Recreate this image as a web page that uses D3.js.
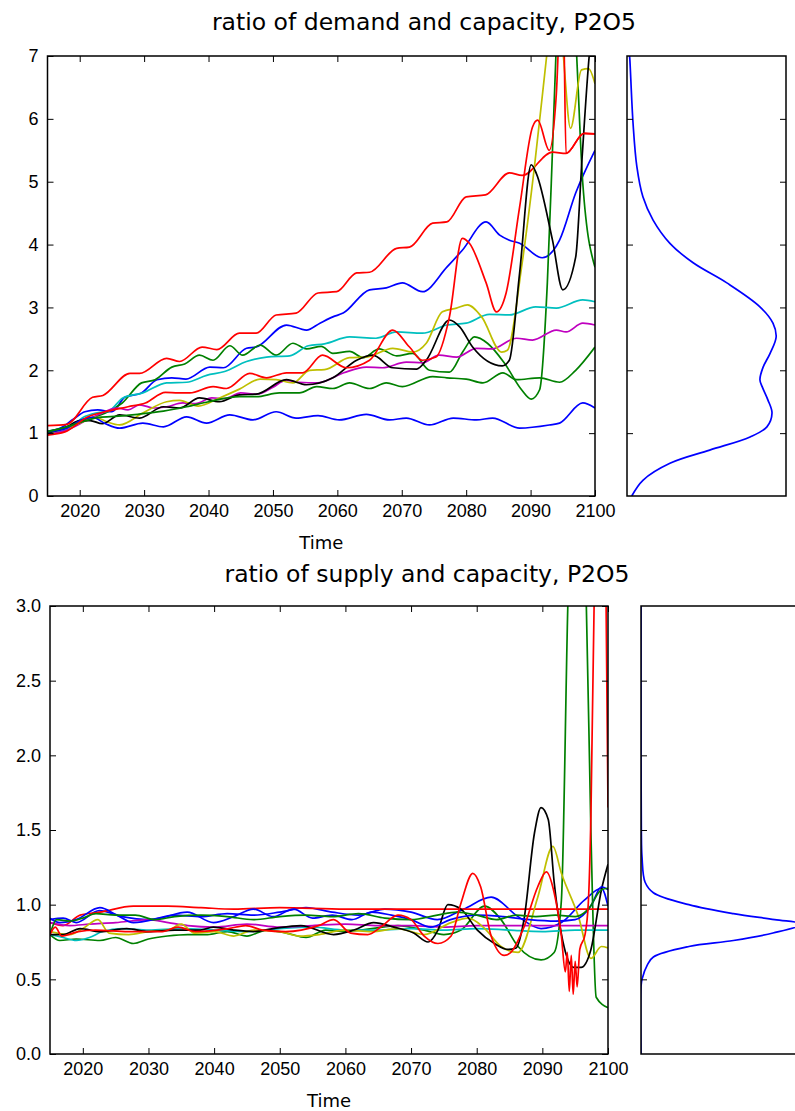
<!DOCTYPE html>
<html>
<head>
<meta charset="utf-8">
<script src="https://cdn.jsdelivr.net/npm/d3@7"></script>
<style>
    body { margin: 0; background: #fff; }
    svg { font-family: "DejaVu Sans", sans-serif; }
    .frame { fill: none; stroke: #000; stroke-width: 1.5; }
    .tick line { stroke: #000; stroke-width: 1; }
    .tick text { fill: #000; font-size: 18px; }
    .series { fill: none; stroke-width: 1.7; }
</style>
</head>
<body>
<div id="chart"></div>
<script>
// ---- tick labels / years ----
var yearTicks = [2020, 2030, 2040, 2050, 2060, 2070, 2080, 2090, 2100];
var demandTicks = [0, 1, 2, 3, 4, 5, 6, 7];
var supplyTicks = [0, 0.5, 1.0, 1.5, 2.0, 2.5, 3.0];
var colors = ["#0000ff", "#008000", "#ff0000", "#00bfbf", "#bf00bf", "#bfbf00", "#000000", "#0000ff", "#008000", "#ff0000"];

// ---- ratio of demand and capacity: [year, value] ----
var dBlue1 = [[2015,1.03],[2017,1.08],[2019,1.22],[2020.8,1.34],[2022.8,1.37],[2025,1.34],[2027,1.57],[2029.6,1.64],[2032,1.85],[2034.3,1.88],[2036.5,1.86],[2040.2,2.05],[2042.3,2.04],[2045.9,2.35],[2047.4,2.37],[2052.1,2.72],[2055.2,2.64],[2057.3,2.75],[2059.3,2.85],[2060.9,2.91],[2065,3.28],[2067.6,3.31],[2070.1,3.39],[2073.2,3.25],[2077,3.64],[2079.4,3.91],[2083.1,4.36],[2085.2,4.15],[2086.7,4.07],[2088.3,4.02],[2091.8,3.79],[2094.5,4.07],[2097,4.82],[2100,5.5]];
var dGreen1 = [[2015,1.03],[2018,1.1],[2020,1.2],[2022.4,1.26],[2024,1.32],[2026.6,1.48],[2029.6,1.8],[2031.7,1.85],[2034.3,2.05],[2036.3,2.1],[2038.6,2.24],[2040.7,2.16],[2043.3,2.39],[2045.3,2.24],[2048,2.4],[2050.5,2.24],[2053.1,2.43],[2055.2,2.34],[2057.5,2.38],[2059.3,2.27],[2061.9,2.3],[2064,2.2],[2066.5,2.34],[2069.2,2.23],[2071.7,2.27],[2074.3,2.0],[2077.4,1.97],[2079.5,2.3],[2081.3,2.53],[2083.3,2.43],[2085.9,2.12],[2088.6,1.69],[2090.1,1.54],[2091.4,1.69],[2092.6,3.39],[2093.4,5.5],[2094,7.2],[2095.5,9],[2097,7.3],[2098.1,4.98],[2100,3.64]];
var dRed1 = [[2015,1.12],[2018,1.14],[2022,1.57],[2023.6,1.6],[2027.8,1.95],[2029.3,1.95],[2033.5,2.19],[2035.5,2.14],[2039,2.37],[2041.3,2.33],[2044.8,2.59],[2047.4,2.59],[2050.5,2.88],[2053.6,2.91],[2057,3.23],[2059.9,3.25],[2063,3.55],[2065,3.56],[2069.2,3.94],[2071.2,3.96],[2074.8,4.34],[2077,4.36],[2080,4.76],[2083,4.79],[2086.7,5.14],[2088.7,5.1],[2093.4,5.47],[2095.5,5.45],[2098.3,5.77],[2100,5.76]];
var dCyan = [[2015,1.0],[2018,1.05],[2020.5,1.25],[2022.5,1.32],[2024.5,1.35],[2026.7,1.56],[2029.8,1.64],[2033.5,1.8],[2036.6,1.81],[2039.7,1.92],[2042.5,1.98],[2045.9,2.14],[2049,2.21],[2052.6,2.23],[2055.5,2.39],[2058,2.42],[2061.9,2.53],[2066,2.51],[2069.2,2.61],[2073.2,2.59],[2077,2.72],[2080,2.75],[2083.6,2.89],[2086.7,2.88],[2090.8,3.01],[2094,2.99],[2098.1,3.12],[2100,3.09]];
var dMagenta = [[2015,0.98],[2018,1.05],[2021,1.2],[2023,1.3],[2025.8,1.4],[2027.5,1.37],[2029.3,1.45],[2031.5,1.4],[2033.5,1.42],[2036,1.48],[2038,1.47],[2040.5,1.56],[2042.5,1.55],[2045,1.64],[2047.5,1.62],[2050,1.73],[2052,1.84],[2054,1.81],[2057,1.8],[2061,1.96],[2064.5,2.05],[2067,2.04],[2070.7,2.13],[2073.2,2.12],[2075.8,2.24],[2078.5,2.21],[2081.6,2.35],[2084,2.34],[2087.8,2.51],[2090.3,2.48],[2094,2.64],[2095.5,2.61],[2098.1,2.75],[2100,2.72]];
var dYellow = [[2015,1.0],[2018,1.08],[2021,1.2],[2022.5,1.25],[2024.2,1.18],[2026.2,1.13],[2029.8,1.32],[2033.5,1.5],[2035.5,1.52],[2038.4,1.43],[2041.7,1.56],[2044.8,1.7],[2048,1.86],[2050.5,1.85],[2053.1,1.8],[2055.7,2.0],[2058,2.01],[2061.9,2.2],[2064.5,2.21],[2068.6,2.35],[2071.7,2.29],[2073.8,2.43],[2076.3,2.93],[2078.5,2.99],[2080.2,3.04],[2082.4,2.85],[2085.5,2.29],[2086.4,2.32],[2088.6,3.64],[2090.6,5.24],[2092.6,7.1],[2093.8,8.2],[2095,7.1],[2096.2,5.85],[2097.9,6.78],[2099,6.8],[2100,6.56]];
var dBlack = [[2015,1.0],[2018,1.1],[2020,1.2],[2021.6,1.2],[2023.5,1.15],[2026.2,1.29],[2029.3,1.24],[2033,1.42],[2035.5,1.4],[2038.6,1.56],[2041.7,1.5],[2044.8,1.61],[2047.4,1.62],[2052.1,1.85],[2055.2,1.77],[2059.3,1.88],[2063,2.16],[2065.5,2.24],[2068.6,2.04],[2072.3,2.02],[2073.8,2.16],[2077.4,2.8],[2079,2.69],[2081,2.37],[2085.6,2.07],[2086.7,2.16],[2088.3,3.55],[2090.1,5.27],[2090.9,5.13],[2093.4,4.07],[2095,3.28],[2097,3.8],[2098,5.39],[2099.1,7.0],[2100,7.8]];
var dBlue2 = [[2015,1.02],[2018,1.08],[2020.5,1.22],[2022,1.25],[2024,1.15],[2026.2,1.08],[2029.8,1.16],[2033,1.1],[2036.6,1.26],[2039.7,1.16],[2043.3,1.29],[2046.9,1.21],[2050.5,1.34],[2053.6,1.24],[2057,1.28],[2060.3,1.21],[2064.5,1.3],[2068.1,1.21],[2070.7,1.24],[2074.3,1.13],[2078,1.24],[2081.6,1.21],[2084.1,1.24],[2088.3,1.08],[2092.9,1.13],[2094.5,1.16],[2098.1,1.48],[2100,1.4]];
var dGreen2 = [[2015,1.02],[2018,1.1],[2021,1.2],[2023,1.25],[2026,1.27],[2029,1.3],[2033,1.35],[2036.6,1.42],[2040,1.5],[2044.8,1.58],[2047.4,1.58],[2051,1.64],[2054.1,1.64],[2056.8,1.74],[2059.3,1.71],[2061.9,1.8],[2065,1.71],[2067.6,1.8],[2070.1,1.74],[2074.8,1.9],[2077,1.88],[2080,1.86],[2082.6,1.8],[2085.7,1.96],[2087.8,1.85],[2091.4,1.88],[2094.5,1.81],[2097,2.0],[2100,2.37]];
var dRed2 = [[2015,0.97],[2017.7,1.02],[2021.3,1.26],[2023.9,1.34],[2027.5,1.42],[2030.2,1.48],[2033.3,1.65],[2035.3,1.64],[2037.1,1.64],[2040.7,1.74],[2042.8,1.71],[2046.4,1.95],[2049,1.88],[2052.1,1.96],[2054.6,1.96],[2057.7,2.24],[2061.4,2.04],[2065,2.16],[2068.6,2.64],[2071.2,2.37],[2073.2,2.16],[2075.3,2.21],[2077.4,2.85],[2079.4,4.1],[2080.5,4.02],[2083.1,3.39],[2084.7,2.93],[2086.2,3.23],[2088.3,4.6],[2090.3,5.87],[2091.1,5.98],[2092.9,5.5],[2094,6.4],[2094.6,7.6],[2095.1,7.6],[2095.5,5.45],[2098.3,5.77],[2100,5.76]];

// ---- ratio of supply and capacity: [year, value] ----
var sBlue1 = [[2015,0.9],[2017,0.91],[2019,0.88],[2022.5,0.96],[2026,0.92],[2030,0.9],[2034,0.93],[2038,0.92],[2042,0.94],[2046,0.93],[2050,0.95],[2054,0.98],[2058,0.95],[2062,0.93],[2066,0.97],[2070,0.95],[2074,0.9],[2078,0.97],[2082.2,1.05],[2086.3,0.92],[2089.8,0.84],[2092.9,0.88],[2096.4,1.03],[2099,1.11],[2100,0.99]];
var sGreen1 = [[2015,0.8],[2016.5,0.76],[2019,0.77],[2022.6,0.76],[2025,0.78],[2027.7,0.74],[2030,0.77],[2032.9,0.79],[2036,0.8],[2039,0.8],[2042,0.82],[2045,0.79],[2048,0.83],[2051,0.81],[2054,0.78],[2057,0.83],[2060,0.82],[2064,0.84],[2068,0.86],[2072,0.83],[2075,0.8],[2077.6,0.83],[2081.2,0.99],[2083.7,0.9],[2086.3,0.72],[2089.8,0.63],[2091.8,0.68],[2092.9,1.03],[2093.9,3.04],[2095,4.5],[2096.2,3.5],[2096.7,3.0],[2097.4,1.48],[2098.2,0.38],[2100,0.31]];
var sRed1 = [[2015,0.88],[2017,0.86],[2019.6,0.93],[2022.6,0.95],[2027.7,0.99],[2032.9,0.99],[2038,0.98],[2043,0.97],[2050,0.98],[2060,0.97],[2070,0.97],[2080,0.97],[2090,0.97],[2100,0.97]];
var sCyan = [[2015,0.8],[2017,0.78],[2019,0.76],[2021,0.78],[2023,0.82],[2026,0.84],[2030,0.83],[2035,0.84],[2040,0.83],[2045,0.82],[2050,0.84],[2055,0.85],[2060,0.83],[2065,0.83],[2070,0.84],[2075,0.83],[2080,0.84],[2085,0.83],[2090,0.82],[2095,0.83],[2100,0.83]];
var sMagenta = [[2015,0.88],[2018,0.86],[2021,0.87],[2025,0.88],[2030,0.9],[2033,0.88],[2036,0.86],[2040,0.85],[2045,0.87],[2050,0.85],[2055,0.86],[2060,0.87],[2065,0.86],[2070,0.86],[2075,0.85],[2080,0.86],[2085,0.86],[2090,0.86],[2095,0.86],[2100,0.86]];
var sYellow = [[2015,0.82],[2018,0.8],[2020,0.84],[2022.3,0.9],[2024,0.81],[2027,0.8],[2030,0.82],[2033,0.83],[2035,0.87],[2037,0.81],[2040,0.82],[2043,0.79],[2046,0.83],[2050,0.82],[2053,0.79],[2056,0.8],[2060,0.83],[2064,0.82],[2068,0.84],[2072,0.8],[2076.1,0.88],[2078.7,0.91],[2081,0.85],[2083.7,0.72],[2086.3,0.68],[2089.3,1.05],[2091.6,1.39],[2092.9,1.21],[2095.5,0.92],[2097.4,0.64],[2099,0.72],[2100,0.71]];
var sBlack = [[2015,0.8],[2017,0.8],[2019.6,0.84],[2022.6,0.82],[2026.7,0.84],[2030,0.82],[2034,0.83],[2037.9,0.83],[2039.9,0.85],[2043,0.83],[2046,0.82],[2049,0.84],[2053.2,0.86],[2058.2,0.8],[2061.3,0.83],[2064.3,0.88],[2067.4,0.85],[2070.4,0.81],[2072.6,0.75],[2074.1,0.83],[2075.6,1.0],[2077.6,0.97],[2080.1,0.83],[2082.7,0.74],[2084.8,0.7],[2086,0.71],[2087.2,0.9],[2088.8,1.48],[2089.8,1.65],[2090.9,1.57],[2091.8,1.15],[2093.3,0.72],[2094.8,0.58],[2095.9,0.58],[2097.4,0.7],[2099,1.1],[2100,1.27]];
var sBlue2 = [[2015,0.91],[2016.5,0.88],[2019,0.9],[2022.6,0.98],[2025.2,0.93],[2027.7,0.88],[2031.8,0.91],[2035.9,0.95],[2039.9,0.88],[2043,0.92],[2046,0.97],[2049,0.92],[2052.1,0.97],[2055,0.91],[2058,0.93],[2061,0.9],[2064,0.95],[2067,0.93],[2070,0.9],[2073,0.85],[2076,0.9],[2080,0.93],[2084,0.92],[2088,0.9],[2092,0.89],[2095,0.9],[2097.5,1.0],[2099,1.12],[2100,1.1]];
var sGreen2 = [[2015,0.8],[2016,0.9],[2018,0.89],[2020,0.91],[2022,0.94],[2025,0.93],[2028,0.93],[2031,0.9],[2034,0.92],[2038,0.93],[2042,0.92],[2046,0.9],[2050,0.92],[2054,0.93],[2058,0.92],[2062,0.94],[2066,0.91],[2070,0.9],[2074,0.93],[2077,0.95],[2080,0.93],[2083,0.9],[2086,0.93],[2089,0.92],[2092,0.93],[2095,0.92],[2097,0.97],[2099,1.1],[2100,1.11]];
var sRed2 = [[2015,0.8],[2015.8,0.85],[2016.8,0.79],[2019.3,0.82],[2021.9,0.83],[2026.9,0.82],[2032.1,0.82],[2034.5,0.85],[2037.1,0.82],[2042.2,0.84],[2044.8,0.86],[2047.4,0.83],[2050.9,0.82],[2055.9,0.86],[2058.2,0.9],[2060.8,0.81],[2063.4,0.8],[2065.4,0.85],[2068,0.93],[2070,0.9],[2072,0.79],[2074.1,0.74],[2076.1,0.79],[2077.6,1.01],[2079.4,1.21],[2080.6,1.12],[2082.2,0.79],[2084.2,0.66],[2085.2,0.68],[2087.2,0.85],[2089.3,1.12],[2090.6,1.22],[2091.8,1.08],[2092.9,0.79],[2093.5,0.55],[2093.8,0.68],[2094.1,0.42],[2094.4,0.66],[2094.7,0.4],[2095,0.62],[2095.3,0.45],[2095.7,0.7],[2096.5,0.8],[2097,1.01],[2097.4,1.6],[2097.9,3.05],[2098.5,3.6],[2099.3,3.5],[2099.7,3.05],[2100,1.65]];

// ---- distributions on the right: value level and density ----
var demandDensLevel = [0, 0.25, 0.52, 0.73, 0.94, 1.1, 1.32, 1.53, 1.74, 1.85, 2.05, 2.27, 2.53, 2.75, 3.01, 3.39, 3.71, 4.02, 4.39, 4.76, 5.24, 5.93, 6.94, 7];
var demandDens = [0.015, 0.05, 0.135, 0.26, 0.387, 0.44, 0.456, 0.443, 0.425, 0.418, 0.428, 0.45, 0.469, 0.459, 0.418, 0.314, 0.208, 0.135, 0.082, 0.05, 0.031, 0.019, 0.009, 0.008];
var supplyDensLevel = [0, 0.45, 0.5, 0.6, 0.65, 0.72, 0.76, 0.81, 0.87, 0.9, 0.94, 1.0, 1.08, 1.15, 1.32, 1.5, 2.0, 3.0];
var supplyDens = [0, 0, 0.006, 0.04, 0.075, 0.29, 0.56, 0.8, 0.98, 0.81, 0.56, 0.29, 0.075, 0.025, 0.006, 0.002, 0, 0];

var svg = d3.select("#chart").append("svg")
        .attr("width", 795)
        .attr("height", 1111);

function drawPanel(p) {
    var x = d3.scaleLinear().domain([2015, 2100]).range([p.left, p.left + p.width]);
    var y = d3.scaleLinear().domain([p.yTicks[0], p.yTicks[p.yTicks.length - 1]]).range([p.top + p.height, p.top]);
    var xd = d3.scaleLinear().domain([0, p.densMax]).range([p.dLeft, p.dLeft + p.dWidth]);

    var clipId = "clip-" + p.id;
    svg.append("clipPath").attr("id", clipId)
            .append("rect")
            .attr("x", p.left).attr("y", p.top)
            .attr("width", p.width).attr("height", p.height);

    var line = d3.line()
            .x(function (d) { return x(d[0]); })
            .y(function (d) { return y(d[1]); })
            .curve(d3.curveMonotoneX);

    svg.append("g")
            .attr("clip-path", "url(#" + clipId + ")")
            .selectAll("path")
            .data(p.series)
            .enter().append("path")
            .attr("class", "series")
            .attr("stroke", function (d, i) { return colors[i]; })
            .attr("d", line);

    // ticks on all four sides, pointing inward
    svg.append("g")
            .attr("transform", "translate(0," + (p.top + p.height) + ")")
            .call(d3.axisBottom(x).tickValues(yearTicks).tickFormat(d3.format("d")).tickSizeInner(-6).tickSizeOuter(0).tickPadding(8))
            .call(function (g) { g.select(".domain").remove(); });
    svg.append("g")
            .attr("transform", "translate(0," + p.top + ")")
            .call(d3.axisTop(x).tickValues(yearTicks).tickFormat("").tickSizeInner(-6).tickSizeOuter(0))
            .call(function (g) { g.select(".domain").remove(); });
    svg.append("g")
            .attr("transform", "translate(" + p.left + ",0)")
            .call(d3.axisLeft(y).tickValues(p.yTicks).tickFormat(p.yFormat).tickSizeInner(-6).tickSizeOuter(0).tickPadding(9))
            .call(function (g) { g.select(".domain").remove(); });
    svg.append("g")
            .attr("transform", "translate(" + (p.left + p.width) + ",0)")
            .call(d3.axisRight(y).tickValues(p.yTicks).tickFormat("").tickSizeInner(-6).tickSizeOuter(0))
            .call(function (g) { g.select(".domain").remove(); });

    svg.append("rect").attr("class", "frame")
            .attr("x", p.left).attr("y", p.top)
            .attr("width", p.width).attr("height", p.height);

    svg.append("text")
            .attr("x", p.titleX).attr("y", p.titleY)
            .attr("text-anchor", "middle")
            .style("font-size", "23.5px")
            .text(p.title);
    svg.append("text")
            .attr("x", p.left + p.width / 2).attr("y", p.top + p.height + 53)
            .attr("text-anchor", "middle")
            .style("font-size", "18px")
            .text("Time");

    // density panel
    var dens = p.densLevel.map(function (v, i) { return [v, p.dens[i]]; });
    var clipD = "clipd-" + p.id;
    svg.append("clipPath").attr("id", clipD)
            .append("rect")
            .attr("x", p.dLeft).attr("y", p.top)
            .attr("width", p.dWidth).attr("height", p.height);
    svg.append("path")
            .datum(dens)
            .attr("clip-path", "url(#" + clipD + ")")
            .attr("fill", "none")
            .attr("stroke", "#0000ff")
            .attr("stroke-width", 1.7)
            .attr("d", d3.line()
                    .x(function (d) { return xd(d[1]); })
                    .y(function (d) { return y(d[0]); })
                    .curve(d3.curveCatmullRom));

    var inner = p.yTicks.slice(1, p.yTicks.length - 1);
    svg.append("g")
            .attr("transform", "translate(" + p.dLeft + ",0)")
            .call(d3.axisLeft(y).tickValues(inner).tickFormat("").tickSizeInner(-6).tickSizeOuter(0))
            .call(function (g) { g.select(".domain").remove(); });
    svg.append("g")
            .attr("transform", "translate(" + (p.dLeft + p.dWidth) + ",0)")
            .call(d3.axisRight(y).tickValues(inner).tickFormat("").tickSizeInner(-6).tickSizeOuter(0))
            .call(function (g) { g.select(".domain").remove(); });
    svg.append("rect").attr("class", "frame")
            .attr("x", p.dLeft).attr("y", p.top)
            .attr("width", p.dWidth).attr("height", p.height);
}

drawPanel({
    id: "demand", title: "ratio of demand and capacity, P2O5", titleX: 424, titleY: 30,
    left: 47.5, top: 56, width: 547.5, height: 440,
    dLeft: 627, dWidth: 159, densMax: 0.5,
    yTicks: demandTicks, yFormat: d3.format("d"),
    series: [dBlue1, dGreen1, dRed1, dCyan, dMagenta, dYellow, dBlack, dBlue2, dGreen2, dRed2],
    densLevel: demandDensLevel, dens: demandDens
});

drawPanel({
    id: "supply", title: "ratio of supply and capacity, P2O5", titleX: 427, titleY: 582,
    left: 50, top: 606, width: 558, height: 448,
    dLeft: 641, dWidth: 165, densMax: 1.0,
    yTicks: supplyTicks, yFormat: d3.format(".1f"),
    series: [sBlue1, sGreen1, sRed1, sCyan, sMagenta, sYellow, sBlack, sBlue2, sGreen2, sRed2],
    densLevel: supplyDensLevel, dens: supplyDens
});
</script>
</body>
</html>
